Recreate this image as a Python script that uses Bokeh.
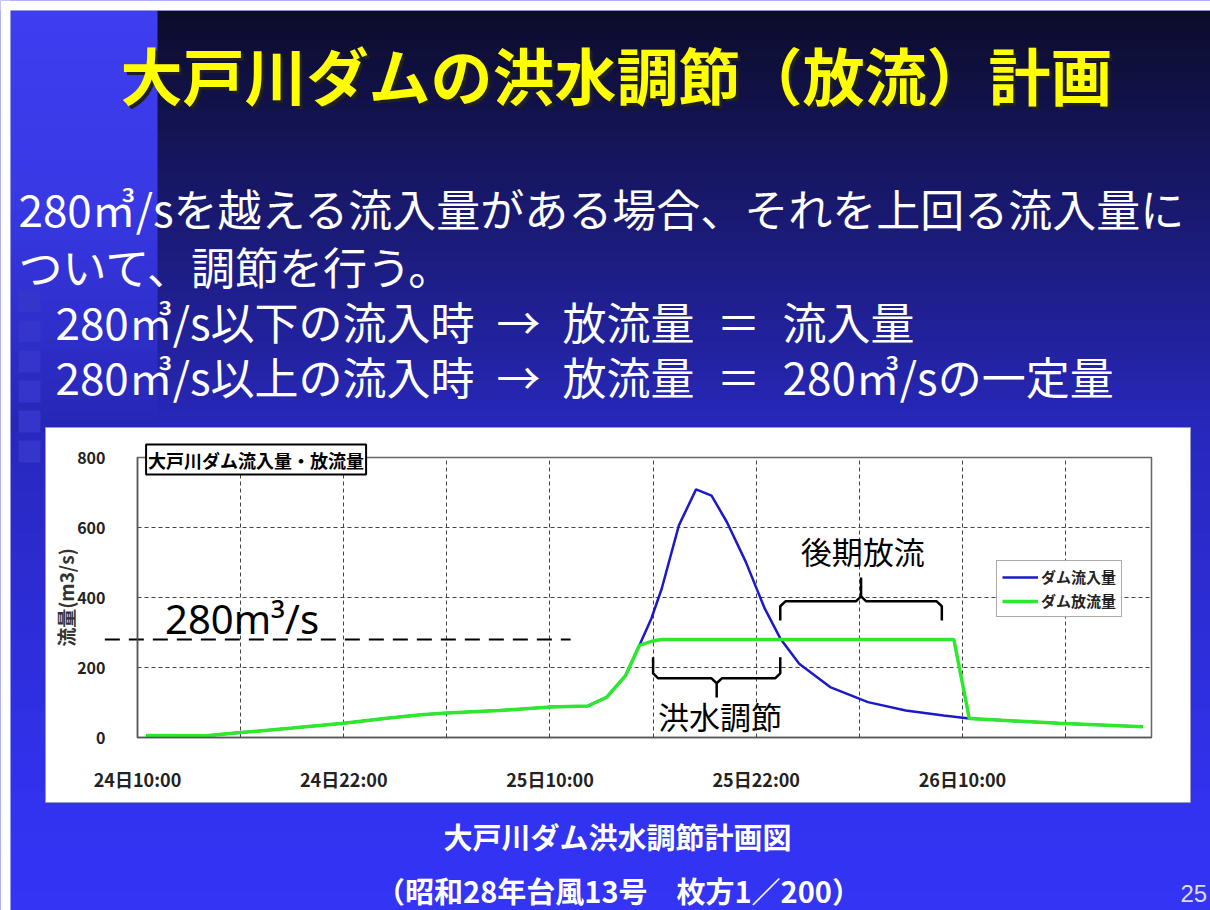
from bokeh.plotting import figure
from bokeh.models import Range1d, FixedTicker, Label
from bokeh.embed import file_html
from bokeh.resources import INLINE

# ---------------- data ----------------
# hours counted from 24日10:00
HOURS_IN = [0.5, 4, 6, 9, 12, 14.5, 16.5, 18, 21, 24, 26.2, 27.3, 28.4, 29.2, 29.9,
            30.5, 31.5, 32.5, 33.4, 34.3, 35.4, 36.5, 37.4, 38.5, 40.3, 42.5, 44.7,
            46.9, 48.4, 50.3, 53.6, 58.5]
INFLOW = [6, 5, 14, 27, 41, 55, 65, 70, 77, 87, 90, 115, 177, 263, 340,
          425, 606, 709, 691, 615, 501, 368, 283, 211, 144, 101, 77,
          63, 54, 49, 41, 31]
HOURS_OUT = [0.5, 4, 6, 9, 12, 14.5, 16.5, 18, 21, 24, 26.2, 27.3, 28.4, 29.2, 30.0,
             30.5, 47.5, 48.4, 50.3, 53.6, 58.5]
OUTFLOW = [6, 5, 14, 27, 41, 55, 65, 70, 77, 87, 90, 115, 177, 263, 276,
           280, 280, 54, 49, 41, 31]
SERIES_NAMES = ["ダム流入量", "ダム放流量"]
X_TICKS = [0, 12, 24, 36, 48]
X_TICK_LABELS = ["24日10:00", "24日22:00", "25日10:00", "25日22:00", "26日10:00"]
X_GRID = [6, 12, 18, 24, 30, 36, 42, 48, 54]
Y_TICKS = [0, 200, 400, 600, 800]
Y_GRID = [200, 400, 600]
X_MAX = 59
Y_MAX = 800
THRESHOLD = 280
THRESHOLD_SPAN = (-1.9, 25.2)
BRACE_CONTROL = (30.0, 37.4, 229, 169, 114)   # x0, x1, arm end, bar, tip
BRACE_LATER = (37.4, 46.8, 334, 389, 457)

TITLE = "大戸川ダムの洪水調節（放流）計画"
BODY = ["280㎥/sを越える流入量がある場合、それを上回る流入量に",
        "ついて、調節を行う。",
        "280㎥/s以下の流入時\u2002→\u2002放流量\u2002＝\u2002流入量",
        "280㎥/s以上の流入時\u2002→\u2002放流量\u2002＝\u2002280㎥/sの一定量"]
CHART_TITLE = "大戸川ダム流入量・放流量"
Y_LABEL = "流量(m3/s)"
CAPTION1 = "大戸川ダム洪水調節計画図"
CAPTION2 = "（昭和28年台風13号　枚方1／200）"
PAGE_NO = "25"

# ---------------- geometry (canvas pixels, y down) ----------------
W, H = 1210, 910
FL, FR, FT, FB = 137, 1151, 457, 737          # where the chart's plot area sits
JP = "Noto Sans CJK JP"
kx = (FR - FL) / X_MAX
ky = (FB - FT) / Y_MAX
x_range = Range1d(-FL / kx, X_MAX + (W - FR) / kx)
y_range = Range1d(-(H - FB) / ky, Y_MAX + FT / ky)

p = figure(width=W, height=H, x_range=x_range, y_range=y_range,
           output_backend="svg", toolbar_location=None, min_border=0)
p.outline_line_color = None
p.background_fill_color = "#3333f2"
p.border_fill_color = "#3333f2"
p.extra_x_ranges = {"px": Range1d(0, W)}
p.extra_y_ranges = {"px": Range1d(H, 0)}


def lerp(c0, c1, t):
    return "#%02x%02x%02x" % tuple(int(round(a + (b - a) * t)) for a, b in zip(c0, c1))


def bands(x0, x1, stops, step=10):
    ys, cs = [], []
    for y in range(stops[0][0], stops[-1][0], step):
        for (ya, ca), (yb, cb) in zip(stops[:-1], stops[1:]):
            if ya <= y < yb:
                cs.append(lerp(ca, cb, (y - ya) / (yb - ya)))
                break
        ys.append(y)
    p.quad(left=x0, right=x1, top=ys, bottom=[y + step + 1 for y in ys], fill_color=cs,
           line_color=None, x_range_name="px", y_range_name="px", level="image")


# slide background
bands(10, W, [(10, (12, 12, 44)), (430, (40, 40, 190)), (800, (50, 50, 240)), (910, (52, 52, 246))])
bands(10, 157, [(10, (62, 62, 240)), (200, (56, 56, 228)), (430, (38, 38, 180))])
p.quad(left=[18] * 6, right=[40] * 6, top=[290, 320, 350, 380, 410, 440],
       bottom=[312, 342, 372, 402, 432, 462], fill_color="#3535cc", line_color=None,
       x_range_name="px", y_range_name="px", level="image")
p.quad(left=[0, 0], right=[W, 10], top=[0, 0], bottom=[10, H], fill_color="white",
       line_color=None, x_range_name="px", y_range_name="px", level="image")
# white chart panel
p.quad(left=[45], right=[1190], top=[427], bottom=[802], fill_color="white",
       line_color="#9a9ac8", x_range_name="px", y_range_name="px", level="image")
# plot-area outline
p.quad(left=[0], right=[X_MAX], bottom=[0], top=[Y_MAX], fill_color="white",
       line_color="#666666", line_width=1.5, level="image")

# ---------------- axes & grid ----------------
p.xaxis.fixed_location = 0
p.yaxis.fixed_location = 0
p.xaxis.bounds = (0, X_MAX)
p.yaxis.bounds = (0, Y_MAX)
p.xaxis.ticker = FixedTicker(ticks=X_TICKS)
p.xaxis.major_label_overrides = {t: l for t, l in zip(X_TICKS, X_TICK_LABELS)}
p.yaxis.ticker = FixedTicker(ticks=Y_TICKS)
p.xgrid.ticker = FixedTicker(ticks=X_GRID)
p.ygrid.ticker = FixedTicker(ticks=Y_GRID)
p.xgrid.cross_bounds = (0, Y_MAX)
p.ygrid.cross_bounds = (0, X_MAX)
for g in (p.xgrid, p.ygrid):
    g.grid_line_color = "#444444"
    g.grid_line_dash = "4 3"
    g.grid_line_width = 1
for ax in (p.xaxis, p.yaxis):
    ax.axis_line_color = "#555555"
    ax.axis_line_width = 1.5
    ax.major_tick_line_color = None
    ax.minor_tick_line_color = None
    ax.major_label_text_font = JP
    ax.major_label_text_font_style = "bold"
    ax.major_label_text_color = "#222222"
p.xaxis.major_label_text_font_size = "18px"
p.yaxis.major_label_text_font_size = "16px"
p.xaxis.major_label_standoff = 22
p.yaxis.major_label_standoff = 26
p.yaxis.axis_label = Y_LABEL
p.yaxis.axis_label_text_font = JP
p.yaxis.axis_label_text_font_style = "bold"
p.yaxis.axis_label_text_font_size = "19px"
p.yaxis.axis_label_text_color = "#333333"
p.yaxis.axis_label_standoff = -5

# ---------------- series ----------------
p.line(HOURS_IN, INFLOW, line_color="#1a1ac8", line_width=2.5, legend_label=SERIES_NAMES[0])
p.line(HOURS_OUT, OUTFLOW, line_color="#2ee82e", line_width=3.5, legend_label=SERIES_NAMES[1])

lg = p.legend[0]
lg.location = (996, H - 617)
lg.label_text_font = JP
lg.label_text_font_size = "15px"
lg.label_text_font_style = "bold"
lg.label_text_color = "#222222"
lg.glyph_width = 36
lg.glyph_height = 20
lg.label_height = 20
lg.label_standoff = 3
lg.padding = 5
lg.spacing = 3
lg.margin = 0
lg.border_line_color = "#555555"
lg.border_line_width = 1.5


# ---------------- annotations inside the chart ----------------
def brace(spec):
    x0, x1, arm, bar, tip = spec
    xm = (x0 + x1) / 2
    d = 1 if tip > bar else -1
    c, r = 14, 0.3
    xs = [[x0, x0, x0 + r, xm - r, xm, xm], [x1, x1, x1 - r, xm + r, xm]]
    ys = [[arm, bar - d * c, bar, bar, bar + d * c, tip], [arm, bar - d * c, bar, bar, bar + d * c]]
    p.multi_line(xs, ys, line_color="black", line_width=2.5)


brace(BRACE_CONTROL)
brace(BRACE_LATER)
p.line(list(THRESHOLD_SPAN), [THRESHOLD, THRESHOLD], line_color="black", line_width=2,
       line_dash="15 9")


def label(x, y, text, size, color="black", font=JP, style="normal", align="left",
          px=True, **kw):
    extra = dict(x_range_name="px", y_range_name="px") if px else {}
    lb = Label(x=x, y=y, text=text, text_font=font, text_font_size=size,
               text_font_style=style, text_color=color, text_align=align,
               text_baseline="middle", **extra, **kw)
    p.add_layout(lb)
    return lb


label(1.6, 340, "280m³/s", "40px", font="Noto Sans", px=False)
label(42.2, 534, "後期放流", "31px", align="center", px=False)
label(33.9, 63, "洪水調節", "31px", align="center", px=False)
label(0.5, 794, CHART_TITLE, "18px", style="bold", px=False,
      border_line_color="black", border_line_width=2,
      background_fill_color="white", padding=2)

# ---------------- slide texts ----------------
label(619, 76, TITLE, "62px", color="#202020", style="bold", align="center")
label(616, 73, TITLE, "62px", color="#ffff00", style="bold", align="center")
label(18, 207, BODY[0], "44px", color="white")
label(18, 265, BODY[1], "44px", color="white")
label(55, 320, BODY[2], "44px", color="white")
label(55, 375, BODY[3], "44px", color="white")
label(617, 835, CAPTION1, "29px", color="white", style="bold", align="center")
label(618, 889, CAPTION2, "29px", color="white", style="bold", align="center")
label(1180, 893, PAGE_NO, "24px", color="#dcdcf0", font="Liberation Sans")

open("out.html", "w").write(file_html(p, INLINE))
